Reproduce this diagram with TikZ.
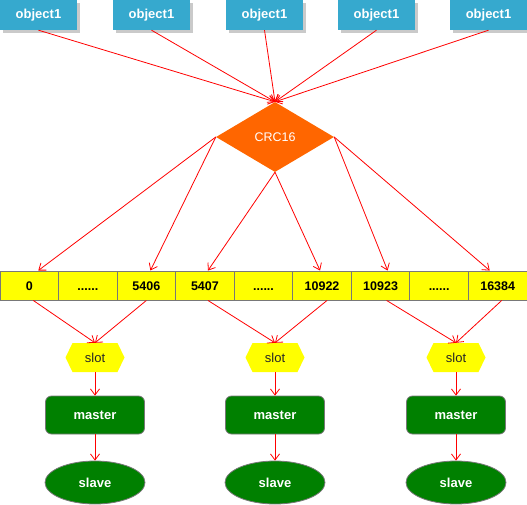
\documentclass[tikz,border=0pt]{standalone}
\usepackage{fontspec}
\setmainfont{Liberation Sans}
\usetikzlibrary{shapes.geometric,arrows.meta,shadows}
\definecolor{objblue}{RGB}{54,169,206}
\definecolor{crcorange}{RGB}{255,102,0}
\definecolor{nodegreen}{RGB}{0,128,0}
\definecolor{cellyellow}{RGB}{255,255,0}
\definecolor{edgegray}{RGB}{120,120,120}
\begin{document}
\begin{tikzpicture}[x=1pt,y=-1pt,
  objbox/.style={fill=objblue, text=white, font=\fontsize{13}{15}\selectfont\bfseries,
    minimum width=77pt, minimum height=30pt, inner sep=0pt,
    drop shadow={shadow xshift=3pt, shadow yshift=-3pt, fill=black!35, opacity=0.6}},
  crcbox/.style={diamond, fill=crcorange, text=white, font=\fontsize{12.5}{15}\selectfont,
    aspect=1.686, minimum width=118pt, minimum height=70pt, inner sep=0pt},
  cellbox/.style={rectangle, fill=cellyellow, draw=edgegray, line width=0.9pt,
    minimum width=58.556pt, minimum height=29pt, inner sep=0pt,
    text height=9pt, text depth=0pt,
    font=\fontsize{12.5}{14}\selectfont\bfseries},
  slotbox/.style={fill=white, minimum width=59pt, minimum height=29pt, inner sep=0pt,
    font=\fontsize{13}{15}\selectfont, text=black!85,
    path picture={\fill[cellyellow]
      ([xshift=7pt]path picture bounding box.north west) --
      ([xshift=-7pt]path picture bounding box.north east) --
      (path picture bounding box.east) --
      ([xshift=-7pt]path picture bounding box.south east) --
      ([xshift=7pt]path picture bounding box.south west) --
      (path picture bounding box.west) -- cycle;}},
  masterbox/.style={rectangle, rounded corners=6pt, fill=nodegreen, draw=edgegray, line width=0.8pt,
    text=white, font=\fontsize{13}{15}\selectfont\bfseries,
    minimum width=99pt, minimum height=38pt, inner sep=0pt},
  slavebox/.style={ellipse, fill=nodegreen, draw=edgegray, line width=0.8pt,
    text=white, font=\fontsize{13}{15}\selectfont\bfseries,
    minimum width=100pt, minimum height=43pt, inner sep=0pt},
  arr/.style={draw=red, line width=0.8pt, -{Straight Barb[length=6pt,width=9pt]}}
]
\useasboundingbox (0,0) rectangle (527,505);

% objects
\node[objbox] (o1) at (38.5,15) {object1};
\node[objbox] (o2) at (151.5,15) {object1};
\node[objbox] (o3) at (264.5,15) {object1};
\node[objbox] (o4) at (376.5,15) {object1};
\node[objbox] (o5) at (488.5,15) {object1};

% CRC16
\node[crcbox] (crc) at (275,137) {CRC16};

% cells
\node[cellbox] (c0) at (29.278,285.5) {0};
\node[cellbox] (c1) at (87.833,285.5) {......};
\node[cellbox] (c2) at (146.389,285.5) {5406};
\node[cellbox] (c3) at (204.944,285.5) {5407};
\node[cellbox] (c4) at (263.5,285.5) {......};
\node[cellbox] (c5) at (322.056,285.5) {10922};
\node[cellbox] (c6) at (380.611,285.5) {10923};
\node[cellbox] (c7) at (439.167,285.5) {......};
\node[cellbox] (c8) at (497.722,285.5) {16384};

% slots
\node[slotbox] (s1) at (95,357.5) {slot};
\node[slotbox] (s2) at (275,357.5) {slot};
\node[slotbox] (s3) at (456,357.5) {slot};

% masters
\node[masterbox] (m1) at (95,415) {master};
\node[masterbox] (m2) at (275,415) {master};
\node[masterbox] (m3) at (456,415) {master};

% slaves
\node[slavebox] (v1) at (95,482.5) {slave};
\node[slavebox] (v2) at (275,482.5) {slave};
\node[slavebox] (v3) at (456,482.5) {slave};

% edges objects -> crc
\foreach \o in {o1,o2,o3,o4,o5}
  \draw[arr] (\o.south) -- (crc.north);

% crc -> cells
\draw[arr] (crc.west) -- ([xshift=9pt]c0.north);
\draw[arr] (crc.west) -- ([xshift=4pt]c2.north);
\draw[arr] (crc.south) -- ([xshift=3pt]c3.north);
\draw[arr] (crc.south) -- ([xshift=-2pt]c5.north);
\draw[arr] (crc.east) -- ([xshift=7pt]c6.north);
\draw[arr] (crc.east) -- ([xshift=-8pt]c8.north);

% cells -> slots
\draw[arr] ([xshift=4pt]c0.south) -- (s1.north);
\draw[arr] (c2.south) -- (s1.north);
\draw[arr] ([xshift=3pt]c3.south) -- (s2.north);
\draw[arr] ([xshift=5pt]c5.south) -- (s2.north);
\draw[arr] ([xshift=6pt]c6.south) -- (s3.north);
\draw[arr] ([xshift=4pt]c8.south) -- (s3.north);

% slots -> masters -> slaves
\foreach \i in {1,2,3} {
  \draw[arr] (s\i.south) -- (m\i.north);
  \draw[arr] (m\i.south) -- (v\i.north);
}
\end{tikzpicture}
\end{document}
